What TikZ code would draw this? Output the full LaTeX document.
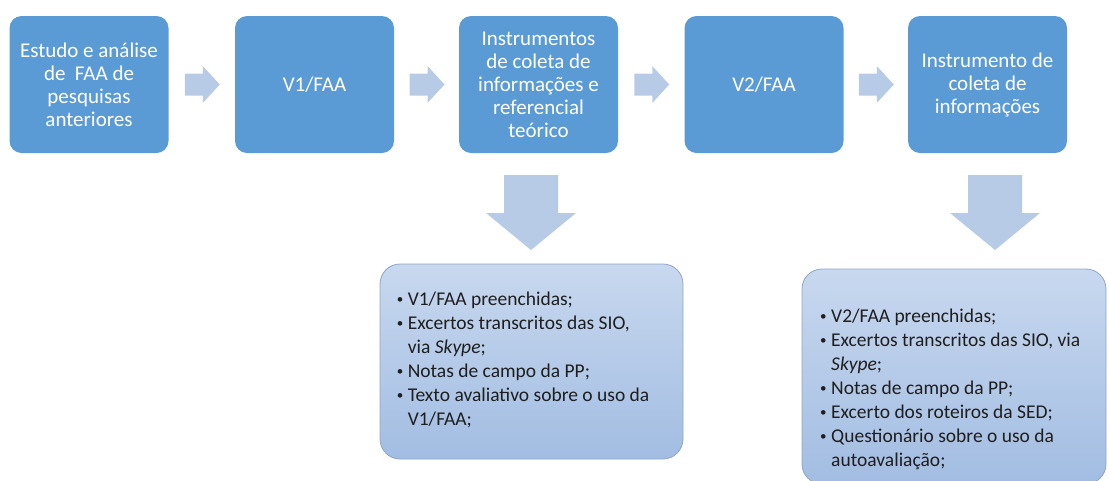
\documentclass[tikz,border=0pt]{standalone}
\usepackage{fontspec}
\setmainfont{Carlito}
\usepackage{tikz}
\usetikzlibrary{calc}
\definecolor{etapa}{HTML}{5B9BD5}
\definecolor{seta}{HTML}{B7CBE7}
\definecolor{fontetopo}{HTML}{C8D8EF}
\definecolor{fontebase}{HTML}{A2BDE2}
\definecolor{fonteborda}{HTML}{8FA6C6}
\definecolor{textoescuro}{HTML}{1E1E1E}
\newcommand{\marca}{\makebox[11pt][l]{\raisebox{1.8pt}{\fontsize{13}{13}\selectfont\textbullet}}}
\newcommand{\recuo}{\hspace*{11pt}}
\tikzset{
	etapa/.style={rectangle, rounded corners=12pt, fill=etapa, text=white, minimum width=159pt, minimum height=137pt, align=center, font=\fontsize{21}{23}\selectfont},
	fontes/.style={rectangle, rounded corners=20pt, top color=fontetopo, bottom color=fontebase, draw=fonteborda, line width=0.8pt},
	lista/.style={inner sep=0pt, align=left, text=textoescuro, font=\fontsize{19.5}{24}\selectfont},
	seta dir/.pic={
		\fill[seta] (-17,-11) -- (1,-11) -- (1,-18.5) -- (18,0) -- (1,18.5) -- (1,11) -- (-17,11) -- cycle;
	},
	seta baixo/.pic={
		\fill[seta] (-27,-37.5) -- (27,-37.5) -- (27,0.5) -- (45,0.5) -- (0,37.5) -- (-45,0.5) -- (-27,0.5) -- cycle;
	},
}

\begin{document}
\begin{tikzpicture}[x=1pt,y=-1pt]
	\useasboundingbox (0,0) rectangle (1110,480);
	\clip (0,0) rectangle (1110,480);
	% etapas
	\node[etapa] at (89,84.5) (estudo) {Estudo e análise\\de \ FAA de\\pesquisas\\anteriores};
	\node[etapa] at (314.5,84.5) (v1) {V1/FAA};
	\node[etapa] at (538.5,84.5) (instrumentos) {Instrumentos\\de coleta de\\informações e\\referencial\\teórico};
	\node[etapa] at (764,84.5) (v2) {V2/FAA};
	\node[etapa] at (987.5,84.5) (instrumento) {Instrumento de\\coleta de\\informações};
	\pic at ($(estudo.east)!0.5!(v1.west)$) {seta dir};
	\pic at ($(v1.east)!0.5!(instrumentos.west)$) {seta dir};
	\pic at ($(instrumentos.east)!0.5!(v2.west)$) {seta dir};
	\pic at ($(v2.east)!0.5!(instrumento.west)$) {seta dir};
	\pic at (531,212.5) {seta baixo};
	\pic at (995,212.5) {seta baixo};
	% fontes de dados
	\node[fontes, minimum width=303pt, minimum height=195pt] at (531.5,361.5) (fontes1) {};
	\node[lista, anchor=west] at ($(fontes1.west)+(17,-2)$) (itens1) {\marca V1/FAA preenchidas;\\
		\marca Excertos transcritos das SIO,\\
		\recuo via \textit{Skype};\\
		\marca Notas de campo da PP;\\
		\marca Texto avaliativo sobre o uso da\\
		\recuo V1/FAA;};
	\node[fontes, minimum width=304pt, minimum height=215pt] at (954,376.5) (fontes2) {};
	\node[lista, anchor=north west] at (820,309) (itens2) {\marca V2/FAA preenchidas;\\
		\marca Excertos transcritos das SIO, via\\
		\recuo \textit{Skype};\\
		\marca Notas de campo da PP;\\
		\marca Excerto dos roteiros da SED;\\
		\marca Questionário sobre o uso da\\
		\recuo autoavaliação;};
\end{tikzpicture}
\end{document}
